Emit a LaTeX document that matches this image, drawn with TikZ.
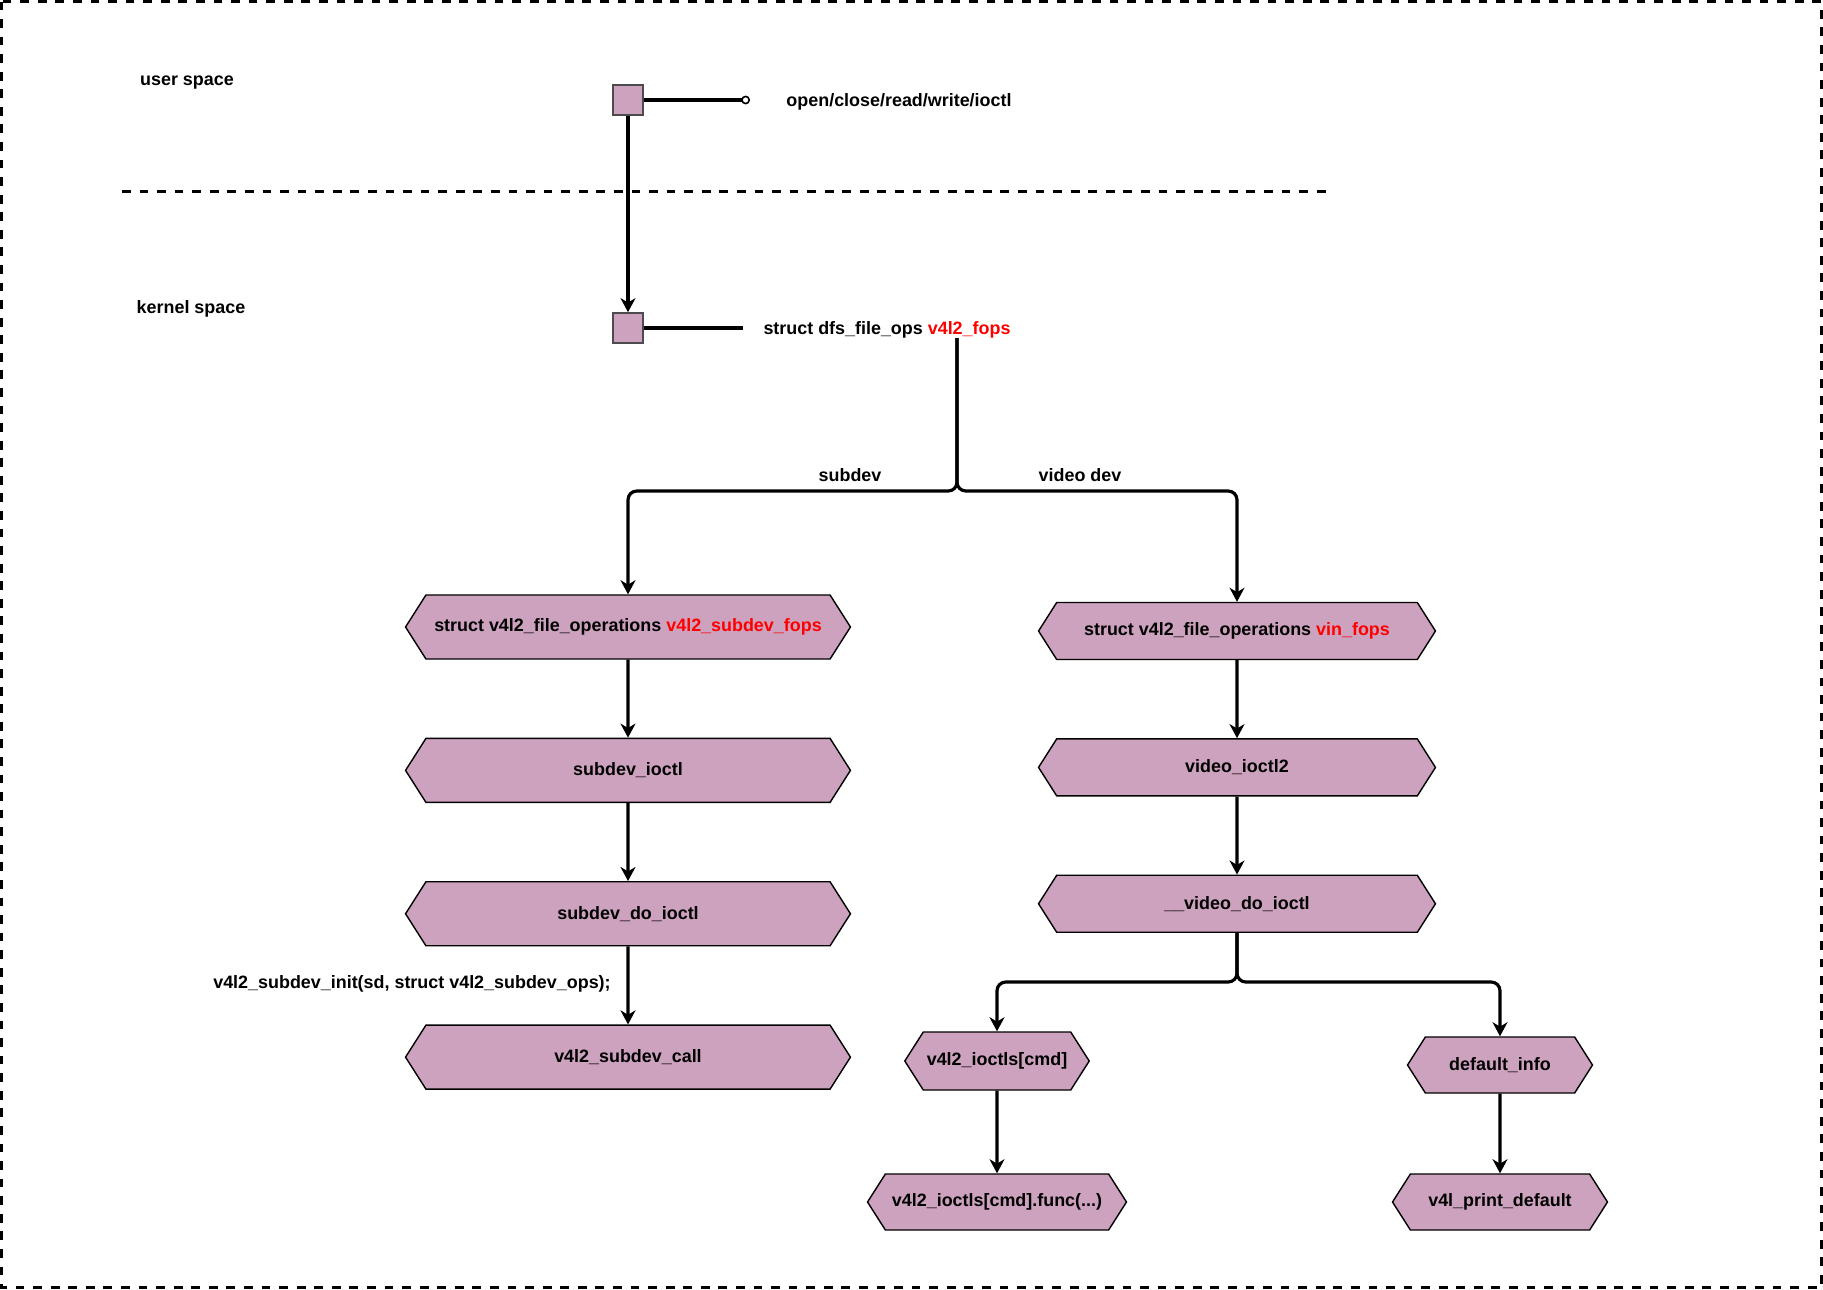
\documentclass[tikz,border=0pt]{standalone}
\usepackage{fontspec}
\setmainfont{Liberation Sans}
\usetikzlibrary{arrows.meta,positioning,shapes.symbols}
\definecolor{hexfill}{HTML}{CDA2BE}
\definecolor{redtxt}{HTML}{FF0000}

\begin{document}
\begin{tikzpicture}[
    x=0.02cm, y=-0.02cm,
    node distance=1.56cm,
    font=\fontsize{10.2}{12}\selectfont\bfseries,
    hexbox/.style={draw=black, line width=0.8pt, fill=hexfill, shape=signal,
        signal to=west and east, signal pointer angle=115, inner sep=2pt},
    sqbox/.style={draw=black!70, line width=0.9pt, fill=hexfill, minimum size=0.6cm, inner sep=0pt},
    arr/.style={-{Stealth[length=8pt, width=8.5pt, inset=2.5pt]}, line width=1.8pt},
    wire/.style={line width=1.8pt},
    sep/.style={dash pattern=on 5pt off 5pt, line width=1.7pt}
  ]
  \useasboundingbox (0,0) rectangle (1823,1289);
  \draw[sep] (1.5,1.5) rectangle (1821.5,1287.5);

  % user / kernel split
  \node (us) at (187,83) {user space};
  \node (ks) at (191,309) {kernel space};
  \coordinate (sepl) at (122,191);
  \coordinate (sepr) at (1333,191);
  \draw[sep] (sepl) -- (sepr);

  \node[sqbox] (usq) at (628,100) {};
  \node (calls) at (899,102) {open/close/read/write/ioctl};
  \coordinate (callend) at (750,100);
  \draw[wire, -{Circle[open, length=5pt, line width=0.9pt]}] (usq) -- (callend);

  \node[sqbox] (ksq) at (628,328) {};
  \node (kfops) at (887,330) {struct dfs\_file\_ops \textcolor{redtxt}{v4l2\_fops}};
  \coordinate (kend) at (743,328);
  \draw[wire] (ksq) -- (kend);
  \draw[arr] (usq) -- (ksq);

  % subdev side
  \node[hexbox, minimum width=8.9cm, minimum height=1.28cm] (sfops) at (628,627)
      {struct v4l2\_file\_operations \textcolor{redtxt}{v4l2\_subdev\_fops}};
  \node[hexbox, minimum width=8.9cm, minimum height=1.28cm, below=of sfops] (sioctl) {subdev\_ioctl};
  \node[hexbox, minimum width=8.9cm, minimum height=1.28cm, below=of sioctl] (sdo) {subdev\_do\_ioctl};
  \node[hexbox, minimum width=8.9cm, minimum height=1.28cm, below=of sdo] (scall) {v4l2\_subdev\_call};
  \node (sinit) at (412,984) {v4l2\_subdev\_init(sd, struct v4l2\_subdev\_ops);};

  % video dev side
  \node[hexbox, minimum width=7.94cm, minimum height=1.14cm] (vfops) at (1237,631)
      {struct v4l2\_file\_operations \textcolor{redtxt}{vin\_fops}};
  \node[hexbox, minimum width=7.94cm, minimum height=1.14cm, below=of vfops] (vioctl) {video\_ioctl2};
  \node[hexbox, minimum width=7.94cm, minimum height=1.14cm, below=of vioctl] (vdo) {\_\_video\_do\_ioctl};

  \node[hexbox, minimum width=3.66cm, minimum height=1.16cm] (ioc) at (997,1061) {v4l2\_ioctls[cmd]};
  \node[hexbox, minimum width=5.18cm, minimum height=1.12cm] (iocf) at (997,1202) {v4l2\_ioctls[cmd].func(...)};
  \node[hexbox, minimum width=3.7cm, minimum height=1.12cm] (dinfo) at (1500,1065) {default\_info};
  \node[hexbox, minimum width=4.3cm, minimum height=1.12cm] (dprint) at (1500,1202) {v4l\_print\_default};

  % branches
  \coordinate (ktap) at (957,338);
  \coordinate (ksplit) at (957,491);
  \node (lsub) at (850,475) {subdev};
  \node (lvid) at (1080,475) {video dev};
  \draw[arr, rounded corners=5pt] (ktap) -- (ksplit) -| (sfops.north);
  \draw[arr, rounded corners=5pt] (ktap) -- (ksplit) -| (vfops.north);

  \draw[arr] (sfops) -- (sioctl);
  \draw[arr] (sioctl) -- (sdo);
  \draw[arr] (sdo) -- (scall);

  \draw[arr] (vfops) -- (vioctl);
  \draw[arr] (vioctl) -- (vdo);
  \coordinate (vsplit) at (1237,982);
  \draw[arr, rounded corners=5pt] (vdo.south) -- (vsplit) -| (ioc.north);
  \draw[arr, rounded corners=5pt] (vdo.south) -- (vsplit) -| (dinfo.north);
  \draw[arr] (ioc) -- (iocf);
  \draw[arr] (dinfo) -- (dprint);
\end{tikzpicture}
\end{document}
